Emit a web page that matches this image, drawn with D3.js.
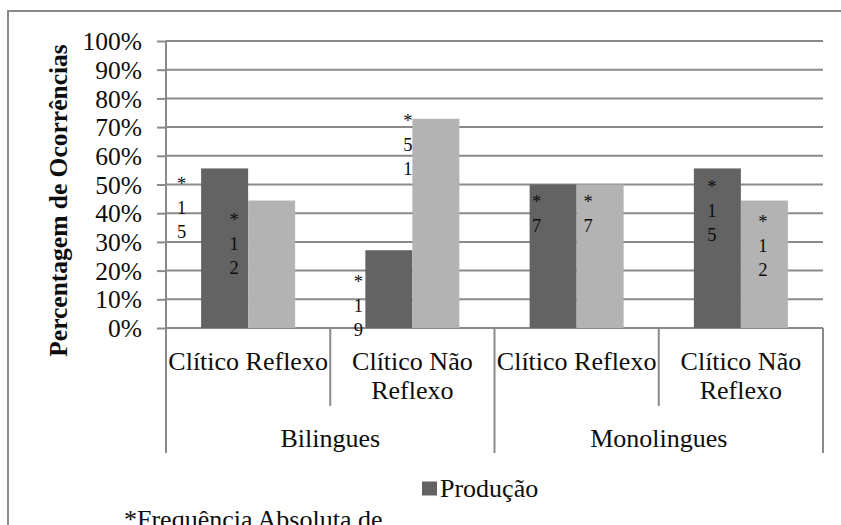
<!DOCTYPE html>
<html>
<head>
<meta charset="utf-8">
<script src="https://cdn.jsdelivr.net/npm/d3@7"></script>
<style>
  body { margin: 0; background: #fff; }
  svg { display: block; }
  text { font-family: "Liberation Serif", "Times New Roman", serif; fill: #0d0d0d; }
</style>
</head>
<body>
<svg id="chart" width="841" height="525"></svg>
<script>
// ---- data ----
const groupNames = ["Bilingues", "Monolingues"];
const categoryLines = [["Clítico Reflexo"], ["Clítico Não", "Reflexo"], ["Clítico Reflexo"], ["Clítico Não", "Reflexo"]];
const categoryGroup = [0, 0, 1, 1];
const seriesNames = ["Produção", "Não produção"];
const producaoPct = [55.6, 27.1, 50, 55.6];
const naoProducaoPct = [44.4, 72.9, 50, 44.4];
const producaoCount = [15, 19, 7, 15];
const naoProducaoCount = [12, 51, 7, 12];
const yTicks = [0, 10, 20, 30, 40, 50, 60, 70, 80, 90, 100];
const yTitle = "Percentagem de Ocorrências";
const footnote = "*Frequência Absoluta de";

// ---- layout ----
const plot = { left: 166, right: 823, top: 41, bottom: 328 };
const colors = ["#636363", "#b3b3b3"];
const gridColor = "#8a8a8a";
// hand-placed data label offsets (px from bar centre / bar top)
const labelDx = [[-43, -30.5, -16.5, -5.5], [-37.5, -28, -12, -1.5]];
const labelDy = [[22, 37.6, 23.2, 24.3], [25, 8.2, 23.2, 27]];

const svg = d3.select("#chart");

const x0 = d3.scaleBand().domain(d3.range(categoryLines.length))
  .range([plot.left, plot.right]).paddingInner(0).paddingOuter(0);
const x1 = d3.scaleBand().domain(d3.range(seriesNames.length))
  .range([0, x0.bandwidth()]).paddingInner(0).paddingOuter(0.747);
const y = d3.scaleLinear().domain([0, 100]).range([plot.bottom, plot.top]);

// outer chart frame
svg.append("rect")
  .attr("x", 8).attr("y", 11).attr("width", 900).attr("height", 600)
  .attr("fill", "none").attr("stroke", gridColor).attr("stroke-width", 2);

// gridlines
svg.append("g").selectAll("line").data(yTicks).join("line")
  .attr("x1", plot.left).attr("x2", plot.right)
  .attr("y1", d => y(d)).attr("y2", d => y(d))
  .attr("stroke", gridColor).attr("stroke-width", 2);

// y axis with ticks and labels
const yAxis = d3.axisLeft(y).tickValues(yTicks).tickFormat(d => d + "%")
  .tickSizeInner(9).tickSizeOuter(0).tickPadding(15);
const gy = svg.append("g").attr("transform", `translate(${plot.left},0)`).call(yAxis);
gy.select(".domain").remove();
gy.selectAll(".tick line").attr("stroke", gridColor).attr("stroke-width", 2);
gy.selectAll(".tick text").attr("font-size", 25.5).attr("fill", "#0d0d0d")
  .attr("font-family", '"Liberation Serif", serif').attr("dy", "0.34em");
svg.append("line")
  .attr("x1", plot.left).attr("x2", plot.left)
  .attr("y1", plot.top).attr("y2", 453)
  .attr("stroke", gridColor).attr("stroke-width", 2);

// category separators
const bounds = d3.range(categoryLines.length + 1);
svg.append("g").selectAll("line").data(bounds.slice(1)).join("line")
  .attr("x1", i => i < categoryLines.length ? x0(i) : plot.right)
  .attr("x2", i => i < categoryLines.length ? x0(i) : plot.right)
  .attr("y1", plot.bottom)
  .attr("y2", i => i % 2 === 0 ? 453 : 406)
  .attr("stroke", gridColor).attr("stroke-width", 2);

// bars
const seriesPct = [producaoPct, naoProducaoPct];
const seriesCount = [producaoCount, naoProducaoCount];
const bars = [];
seriesPct.forEach((vals, s) => vals.forEach((v, c) => bars.push({ s, c, v, n: seriesCount[s][c] })));

svg.append("g").selectAll("rect").data(bars).join("rect")
  .attr("x", d => x0(d.c) + x1(d.s))
  .attr("width", x1.bandwidth())
  .attr("y", d => y(d.v))
  .attr("height", d => y(0) - y(d.v))
  .attr("fill", d => colors[d.s]);

// data labels: "*n" stacked one character per line
const lbl = svg.append("g");
bars.forEach(d => {
  const cx = x0(d.c) + x1(d.s) + x1.bandwidth() / 2 + labelDx[d.s][d.c];
  const top = y(d.v) + labelDy[d.s][d.c];
  const chars = ("*" + d.n).split("");
  const t = lbl.append("text").attr("text-anchor", "middle").attr("font-size", 18.5);
  chars.forEach((ch, i) => {
    t.append("tspan").attr("x", cx).attr("y", top + i * 24).text(ch);
  });
});

// category labels
const catG = svg.append("g");
categoryLines.forEach((lines, c) => {
  const t = catG.append("text").attr("text-anchor", "middle").attr("font-size", 26);
  lines.forEach((ln, i) => {
    t.append("tspan").attr("x", x0(c) + x0.bandwidth() / 2).attr("y", 370 + i * 28.5).text(ln);
  });
});

// group labels
groupNames.forEach((g, gi) => {
  const idx = categoryGroup.map((v, i) => v === gi ? i : -1).filter(i => i >= 0);
  const gx0 = x0(idx[0]);
  const gx1 = x0(idx[idx.length - 1]) + x0.bandwidth();
  svg.append("text").attr("text-anchor", "middle").attr("font-size", 26)
    .attr("x", (gx0 + gx1) / 2).attr("y", 447).text(g);
});

// y axis title
svg.append("text")
  .attr("transform", `translate(67,${(plot.top + plot.bottom) / 2 + 16}) rotate(-90)`)
  .attr("text-anchor", "middle").attr("font-size", 25.5).attr("font-weight", "bold")
  .text(yTitle);

// legend
const leg = svg.append("g");
leg.append("rect").attr("x", 422).attr("y", 481.5).attr("width", 15).attr("height", 14)
  .attr("fill", colors[0]);
leg.append("text").attr("x", 440).attr("y", 497).attr("font-size", 26).text(seriesNames[0]);

// footnote (runs past the lower edge of the frame)
svg.append("text").attr("x", 124).attr("y", 528).attr("font-size", 26).text(footnote);
</script>
</body>
</html>
